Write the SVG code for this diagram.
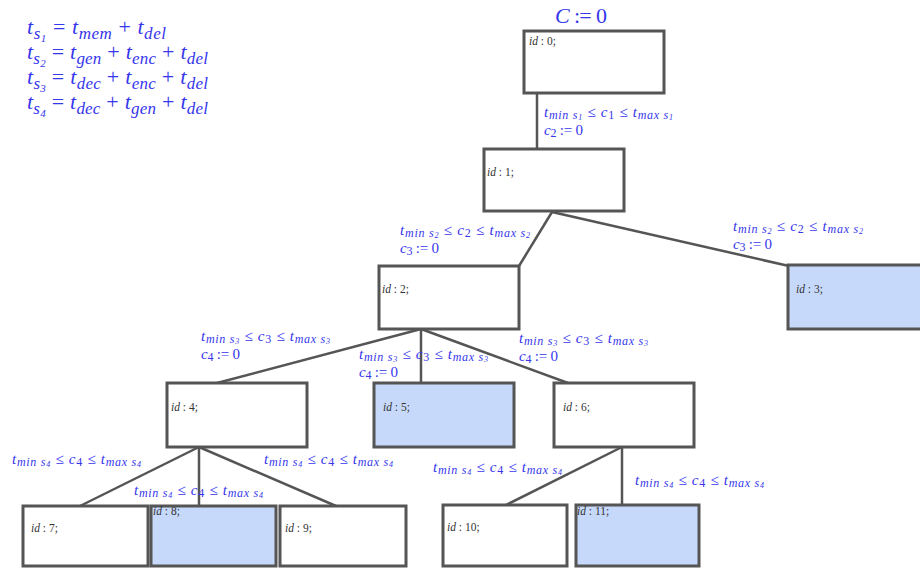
<svg xmlns="http://www.w3.org/2000/svg" width="920" height="568" viewBox="0 0 920 568">
<style>
.box{fill:#fff;stroke:#555;stroke-width:3}
.acc{fill:#c6d9fb;stroke:#555;stroke-width:3}
.edge{stroke:#555;stroke-width:2.5;fill:none}
.id{font-family:"Liberation Serif",serif;font-size:11.5px;fill:#333}
.it{font-style:italic}
.lbl{font-family:"Liberation Serif",serif;font-size:15px;fill:#3636ec;font-style:italic}
.f{font-family:"Liberation Serif",serif;font-size:22px;fill:#3636ec;font-style:italic}
.s{font-size:12px}
.ss{font-size:8px}
.fs{font-size:17px}
.fss{font-size:11px}
.up{font-style:normal}
</style>
<rect width="920" height="568" fill="#fff"/>
<g id="formulas">
<text class="f" x="27" y="34" textLength="139" lengthAdjust="spacing">t<tspan class="fs" dy="5">s</tspan><tspan class="fss" dy="3">1</tspan><tspan dy="-8" class="up"> = </tspan>t<tspan class="fs" dy="5">mem</tspan><tspan dy="-5" class="up"> + </tspan>t<tspan class="fs" dy="5">del</tspan></text>
<text class="f" x="27" y="59" textLength="181" lengthAdjust="spacing">t<tspan class="fs" dy="5">s</tspan><tspan class="fss" dy="3">2</tspan><tspan dy="-8" class="up"> = </tspan>t<tspan class="fs" dy="5">gen</tspan><tspan dy="-5" class="up"> + </tspan>t<tspan class="fs" dy="5">enc</tspan><tspan dy="-5" class="up"> + </tspan>t<tspan class="fs" dy="5">del</tspan></text>
<text class="f" x="27" y="84" textLength="181" lengthAdjust="spacing">t<tspan class="fs" dy="5">s</tspan><tspan class="fss" dy="3">3</tspan><tspan dy="-8" class="up"> = </tspan>t<tspan class="fs" dy="5">dec</tspan><tspan dy="-5" class="up"> + </tspan>t<tspan class="fs" dy="5">enc</tspan><tspan dy="-5" class="up"> + </tspan>t<tspan class="fs" dy="5">del</tspan></text>
<text class="f" x="27" y="109" textLength="181" lengthAdjust="spacing">t<tspan class="fs" dy="5">s</tspan><tspan class="fss" dy="3">4</tspan><tspan dy="-8" class="up"> = </tspan>t<tspan class="fs" dy="5">dec</tspan><tspan dy="-5" class="up"> + </tspan>t<tspan class="fs" dy="5">gen</tspan><tspan dy="-5" class="up"> + </tspan>t<tspan class="fs" dy="5">del</tspan></text>
<text class="f" x="555" y="23" textLength="52" lengthAdjust="spacing">C<tspan class="up"> := 0</tspan></text>
</g>
<g id="connectors">
<line class="edge" x1="537" y1="94" x2="537" y2="149"/>
<line class="edge" x1="552" y1="212" x2="519" y2="266"/>
<line class="edge" x1="552" y1="212" x2="789" y2="266"/>
<line class="edge" x1="421" y1="329" x2="217" y2="383"/>
<line class="edge" x1="421" y1="329" x2="421" y2="383"/>
<line class="edge" x1="421" y1="329" x2="568" y2="383"/>
<line class="edge" x1="199" y1="447" x2="80" y2="506"/>
<line class="edge" x1="199" y1="447" x2="199" y2="506"/>
<line class="edge" x1="199" y1="447" x2="336" y2="506"/>
<line class="edge" x1="622" y1="447" x2="506" y2="505"/>
<line class="edge" x1="622" y1="447" x2="622" y2="505"/>
<text class="lbl" x="544" y="117" textLength="129" lengthAdjust="spacing">t<tspan class="s" dy="2">min s</tspan><tspan class="ss" dy="1">1</tspan><tspan class="up" dy="-3"> ≤ </tspan>c<tspan class="s up" dy="2">1</tspan><tspan class="up" dy="-2"> ≤ </tspan>t<tspan class="s" dy="2">max s</tspan><tspan class="ss" dy="1">1</tspan></text>
<text class="lbl" x="544" y="135" textLength="39" lengthAdjust="spacing">c<tspan class="s up" dy="2">2</tspan><tspan class="up" dy="-2"> := 0</tspan></text>
<text class="lbl" x="400" y="235" textLength="130" lengthAdjust="spacing">t<tspan class="s" dy="2">min s</tspan><tspan class="ss" dy="1">2</tspan><tspan class="up" dy="-3"> ≤ </tspan>c<tspan class="s up" dy="2">2</tspan><tspan class="up" dy="-2"> ≤ </tspan>t<tspan class="s" dy="2">max s</tspan><tspan class="ss" dy="1">2</tspan></text>
<text class="lbl" x="400" y="253" textLength="39" lengthAdjust="spacing">c<tspan class="s up" dy="2">3</tspan><tspan class="up" dy="-2"> := 0</tspan></text>
<text class="lbl" x="733" y="231" textLength="130" lengthAdjust="spacing">t<tspan class="s" dy="2">min s</tspan><tspan class="ss" dy="1">2</tspan><tspan class="up" dy="-3"> ≤ </tspan>c<tspan class="s up" dy="2">2</tspan><tspan class="up" dy="-2"> ≤ </tspan>t<tspan class="s" dy="2">max s</tspan><tspan class="ss" dy="1">2</tspan></text>
<text class="lbl" x="733" y="249" textLength="39" lengthAdjust="spacing">c<tspan class="s up" dy="2">3</tspan><tspan class="up" dy="-2"> := 0</tspan></text>
<text class="lbl" x="201" y="341" textLength="129" lengthAdjust="spacing">t<tspan class="s" dy="2">min s</tspan><tspan class="ss" dy="1">3</tspan><tspan class="up" dy="-3"> ≤ </tspan>c<tspan class="s up" dy="2">3</tspan><tspan class="up" dy="-2"> ≤ </tspan>t<tspan class="s" dy="2">max s</tspan><tspan class="ss" dy="1">3</tspan></text>
<text class="lbl" x="201" y="359" textLength="39" lengthAdjust="spacing">c<tspan class="s up" dy="2">4</tspan><tspan class="up" dy="-2"> := 0</tspan></text>
<text class="lbl" x="359" y="359" textLength="129" lengthAdjust="spacing">t<tspan class="s" dy="2">min s</tspan><tspan class="ss" dy="1">3</tspan><tspan class="up" dy="-3"> ≤ </tspan>c<tspan class="s up" dy="2">3</tspan><tspan class="up" dy="-2"> ≤ </tspan>t<tspan class="s" dy="2">max s</tspan><tspan class="ss" dy="1">3</tspan></text>
<text class="lbl" x="359" y="377" textLength="39" lengthAdjust="spacing">c<tspan class="s up" dy="2">4</tspan><tspan class="up" dy="-2"> := 0</tspan></text>
<text class="lbl" x="519" y="343" textLength="129" lengthAdjust="spacing">t<tspan class="s" dy="2">min s</tspan><tspan class="ss" dy="1">3</tspan><tspan class="up" dy="-3"> ≤ </tspan>c<tspan class="s up" dy="2">3</tspan><tspan class="up" dy="-2"> ≤ </tspan>t<tspan class="s" dy="2">max s</tspan><tspan class="ss" dy="1">3</tspan></text>
<text class="lbl" x="519" y="361" textLength="39" lengthAdjust="spacing">c<tspan class="s up" dy="2">4</tspan><tspan class="up" dy="-2"> := 0</tspan></text>
<text class="lbl" x="12" y="464" textLength="129" lengthAdjust="spacing">t<tspan class="s" dy="2">min s</tspan><tspan class="ss" dy="1">4</tspan><tspan class="up" dy="-3"> ≤ </tspan>c<tspan class="s up" dy="2">4</tspan><tspan class="up" dy="-2"> ≤ </tspan>t<tspan class="s" dy="2">max s</tspan><tspan class="ss" dy="1">4</tspan></text>
<text class="lbl" x="134" y="495" textLength="129" lengthAdjust="spacing">t<tspan class="s" dy="2">min s</tspan><tspan class="ss" dy="1">4</tspan><tspan class="up" dy="-3"> ≤ </tspan>c<tspan class="s up" dy="2">4</tspan><tspan class="up" dy="-2"> ≤ </tspan>t<tspan class="s" dy="2">max s</tspan><tspan class="ss" dy="1">4</tspan></text>
<text class="lbl" x="264" y="464" textLength="129" lengthAdjust="spacing">t<tspan class="s" dy="2">min s</tspan><tspan class="ss" dy="1">4</tspan><tspan class="up" dy="-3"> ≤ </tspan>c<tspan class="s up" dy="2">4</tspan><tspan class="up" dy="-2"> ≤ </tspan>t<tspan class="s" dy="2">max s</tspan><tspan class="ss" dy="1">4</tspan></text>
<text class="lbl" x="433" y="472" textLength="129" lengthAdjust="spacing">t<tspan class="s" dy="2">min s</tspan><tspan class="ss" dy="1">4</tspan><tspan class="up" dy="-3"> ≤ </tspan>c<tspan class="s up" dy="2">4</tspan><tspan class="up" dy="-2"> ≤ </tspan>t<tspan class="s" dy="2">max s</tspan><tspan class="ss" dy="1">4</tspan></text>
<text class="lbl" x="635" y="485" textLength="129" lengthAdjust="spacing">t<tspan class="s" dy="2">min s</tspan><tspan class="ss" dy="1">4</tspan><tspan class="up" dy="-3"> ≤ </tspan>c<tspan class="s up" dy="2">4</tspan><tspan class="up" dy="-2"> ≤ </tspan>t<tspan class="s" dy="2">max s</tspan><tspan class="ss" dy="1">4</tspan></text>
</g>
<g id="n0"><rect class="box" x="524" y="31" width="140" height="62"/><text class="id" x="529" y="45"><tspan class="it">id</tspan> : 0;</text></g>
<g id="n1"><rect class="box" x="484" y="149" width="140" height="62"/><text class="id" x="487" y="176"><tspan class="it">id</tspan> : 1;</text></g>
<g id="n2"><rect class="box" x="379" y="266" width="140" height="63"/><text class="id" x="382" y="293"><tspan class="it">id</tspan> : 2;</text></g>
<g id="n3"><rect class="acc" x="788" y="265" width="140" height="64"/><text class="id" x="796" y="293"><tspan class="it">id</tspan> : 3;</text></g>
<g id="n4"><rect class="box" x="167" y="383" width="140" height="64"/><text class="id" x="171" y="411"><tspan class="it">id</tspan> : 4;</text></g>
<g id="n5"><rect class="acc" x="374" y="383" width="140" height="64"/><text class="id" x="383" y="411"><tspan class="it">id</tspan> : 5;</text></g>
<g id="n6"><rect class="box" x="554" y="383" width="140" height="64"/><text class="id" x="563" y="411"><tspan class="it">id</tspan> : 6;</text></g>
<g id="n7"><rect class="box" x="23" y="506" width="125" height="60"/><text class="id" x="31" y="532"><tspan class="it">id</tspan> : 7;</text></g>
<g id="n8"><rect class="acc" x="151" y="506" width="125" height="60"/><text class="id" x="153" y="515"><tspan class="it">id</tspan> : 8;</text></g>
<g id="n9"><rect class="box" x="280" y="506" width="126" height="60"/><text class="id" x="285" y="532"><tspan class="it">id</tspan> : 9;</text></g>
<g id="n10"><rect class="box" x="443" y="505" width="124" height="61"/><text class="id" x="447" y="531"><tspan class="it">id</tspan> : 10;</text></g>
<g id="n11"><rect class="acc" x="576" y="505" width="123" height="61"/><text class="id" x="577" y="515"><tspan class="it">id</tspan> : 11;</text></g>
</svg>
